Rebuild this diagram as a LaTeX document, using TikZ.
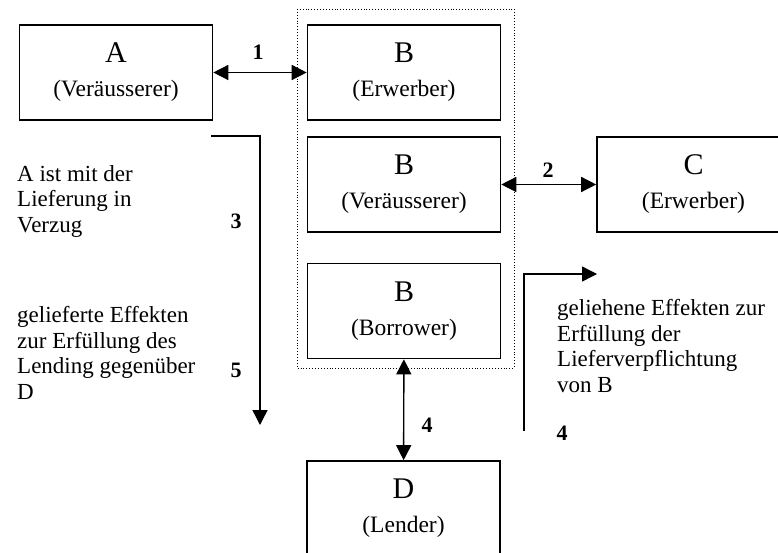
\documentclass[tikz,border=0pt]{standalone}
\usepackage{fontspec}
\setmainfont{Liberation Serif}
\usetikzlibrary{arrows.meta}
\begin{document}
\begin{tikzpicture}[x=1pt,y=-1pt,
  box/.style={draw, line width=1.6pt, minimum width=193pt, minimum height=95pt, align=center, inner sep=0pt, font=\fontsize{23.5}{34}\selectfont},
  num/.style={inner sep=0pt, font=\fontsize{22}{22}\selectfont\bfseries},
  txt/.style={align=left, anchor=north west, inner sep=0pt, font=\fontsize{23}{25.8}\selectfont},
  arr/.style={line width=1.4pt, -{Triangle[length=15pt,width=15pt]}},
  dbl/.style={line width=1.4pt, {Triangle[length=15pt,width=15pt]}-{Triangle[length=15pt,width=15pt]}}]
\clip (0,0) rectangle (778,553);
\draw[dotted, line width=0.9pt] (297,9) rectangle (514,368);
\node[box] (verA) at (116,72.5) {{\fontsize{30}{30}\selectfont A}\\(Veräusserer)};
\node[box] (erwB) at (404,72.5) {{\fontsize{30}{30}\selectfont B}\\(Erwerber)};
\node[box] (verB) at (404,184.5) {{\fontsize{30}{30}\selectfont B}\\(Veräusserer)};
\node[box] (borB) at (404,311) {{\fontsize{30}{30}\selectfont B}\\(Borrower)};
\node[box] (erwC) at (693.5,184.5) {{\fontsize{30}{30}\selectfont C}\\(Erwerber)};
\node[box] (lenD) at (403.5,508.5) {{\fontsize{30}{30}\selectfont D}\\(Lender)};
\draw[dbl] (verA) -- (erwB);
\draw[dbl] (verB) -- (erwC);
\draw[dbl] (borB) -- (lenD);
\node[num] (n1) at (258,52) {1};
\node[num] (n2) at (548,170) {2};
\node[num] (n4a) at (427,425) {4};
% Verzug / Lieferung an D
\coordinate (s35) at (211,136);
\coordinate (e35) at (260,425);
\draw[arr] (s35) -| (e35);
\node[num] (n3) at (236,221) {3};
\node[num] (n5) at (236,370) {5};
\node[txt] (tVerzug) at (17,165) {A ist mit der\\Lieferung in\\Verzug};
\node[txt] (tLending) at (17,306) {gelieferte Effekten\\zur Erfüllung des\\Lending gegenüber\\D};
% geliehene Effekten an C
\coordinate (s4) at (524,431);
\coordinate (e4) at (597,274);
\draw[arr] (s4) |- (e4);
\node[txt] (tGeliehen) at (557,299) {geliehene Effekten zur\\Erfüllung der\\Lieferverpflichtung\\von B};
\node[num] (n4b) at (562,433) {4};
\end{tikzpicture}
\end{document}
